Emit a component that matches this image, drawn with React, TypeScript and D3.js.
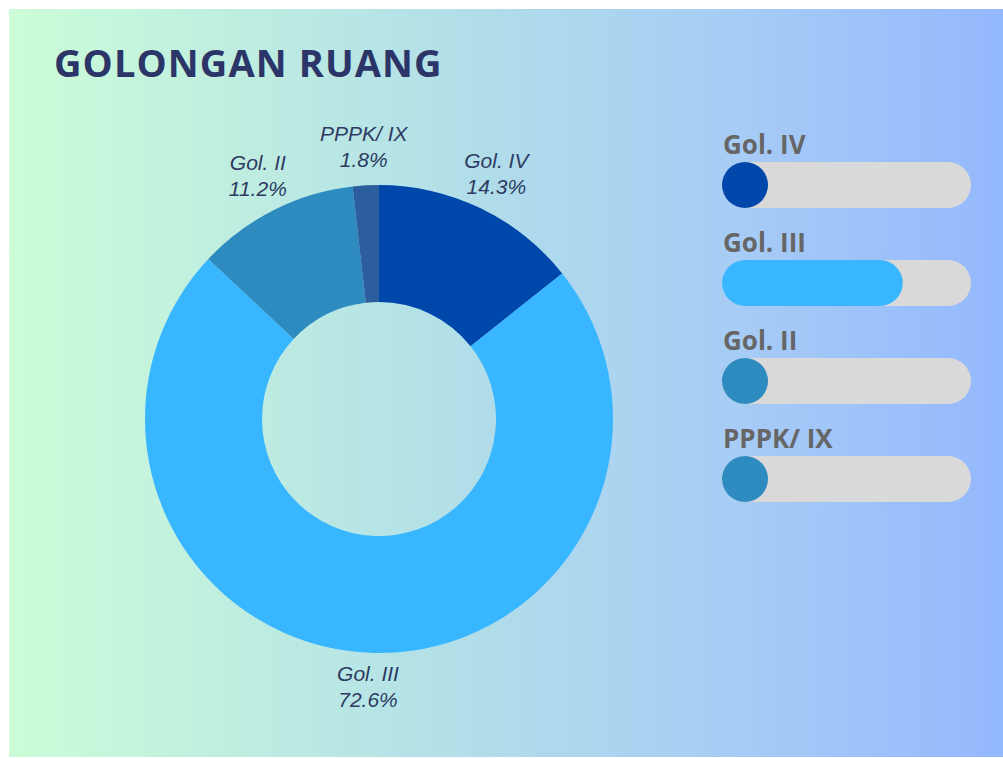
import React, { useRef, useEffect } from 'react';
import * as d3 from 'd3';

const categories = ['Gol. IV', 'Gol. III', 'Gol. II', 'PPPK/ IX'];
const percents = [14.3, 72.6, 11.2, 1.8];
const sliceColors = ['#0047ab', '#38b6ff', '#2e8bc0', '#2c5d9c'];
const legendColors = ['#0047ab', '#38b6ff', '#2e8bc0', '#2e8bc0'];

const App: React.FC = () => {
  const svgRef = useRef<SVGSVGElement>(null);

  useEffect(() => {
    if (!svgRef.current) return;
    const W = 1003;
    const H = 758;
    const svg = d3.select(svgRef.current).attr('width', W).attr('height', H);
    svg.selectAll('*').remove();

    // background
    const defs = svg.append('defs');
    const grad = defs.append('linearGradient').attr('id', 'bg').attr('x1', '0%').attr('x2', '100%').attr('y1', '0%').attr('y2', '0%');
    grad.append('stop').attr('offset', '0%').attr('stop-color', '#ccfdd8');
    grad.append('stop').attr('offset', '49%').attr('stop-color', '#b0dcea');
    grad.append('stop').attr('offset', '72%').attr('stop-color', '#a8cdf5');
    grad.append('stop').attr('offset', '100%').attr('stop-color', '#94b8fd');
    svg.append('rect').attr('width', W).attr('height', H).attr('fill', '#fff');
    svg.append('rect').attr('x', 9).attr('y', 9).attr('width', W - 9).attr('height', H - 10).attr('fill', 'url(#bg)');

    // title
    svg.append('text')
      .attr('x', 54).attr('y', 77)
      .attr('font-family', '"Open Sans", sans-serif')
      .attr('font-weight', 700)
      .attr('font-size', 38)
      .attr('letter-spacing', 1.1)
      .attr('fill', '#2b3568')
      .text('GOLONGAN RUANG');

    // donut
    const cx = 379, cy = 419, outerR = 234, innerR = 117;
    const g = svg.append('g').attr('transform', `translate(${cx},${cy})`);
    const pie = d3.pie<number>().sort(null).value(d => d);
    const arcs = pie(percents);
    const arc = d3.arc<d3.PieArcDatum<number>>().innerRadius(innerR).outerRadius(outerR);
    g.selectAll('path.slice')
      .data(arcs)
      .enter()
      .append('path')
      .attr('class', 'slice')
      .attr('d', arc)
      .attr('fill', (_, i) => sliceColors[i]);

    // labels outside the ring
    const labelArc = d3.arc<d3.PieArcDatum<number>>().innerRadius(270).outerRadius(270);
    const labels = g.selectAll('g.lbl')
      .data(arcs)
      .enter()
      .append('g')
      .attr('class', 'lbl')
      .attr('transform', d => `translate(${labelArc.centroid(d)})`);
    labels.each(function (d, i) {
      const t = d3.select(this).append('text')
        .attr('text-anchor', 'middle')
        .attr('font-family', '"Liberation Sans", Arial, sans-serif')
        .attr('font-style', 'italic')
        .attr('font-size', 21)
        .attr('fill', '#2e3b62');
      t.append('tspan').attr('x', 0).attr('y', -8).text(categories[i]);
      t.append('tspan').attr('x', 0).attr('y', 18).text(`${d.data}%`);
    });

    // progress legend
    const trackX = 722, trackW = 249, trackH = 46;
    const y = d3.scaleLinear().domain([0, categories.length - 1]).range([162, 456]);
    const x = d3.scaleLinear().domain([0, 100]).range([0, trackW]);
    const rows = svg.selectAll('g.row')
      .data(categories)
      .enter()
      .append('g')
      .attr('class', 'row')
      .attr('transform', (_, i) => `translate(${trackX},${y(i)})`);
    rows.append('text')
      .attr('x', 1).attr('y', -8)
      .attr('font-family', '"Open Sans", sans-serif')
      .attr('font-weight', 700)
      .attr('font-size', 26)
      .attr('fill', '#666666')
      .text(d => d);
    rows.append('rect')
      .attr('width', trackW).attr('height', trackH)
      .attr('rx', trackH / 2)
      .attr('fill', '#d9d9d9');
    rows.append('rect')
      .attr('width', (_, i) => Math.max(x(percents[i]), trackH))
      .attr('height', trackH)
      .attr('rx', trackH / 2)
      .attr('fill', (_, i) => legendColors[i]);
  }, []);

  return <svg ref={svgRef} style={{ position: 'absolute', left: 0, top: 0 }} />;
};

export default App;
